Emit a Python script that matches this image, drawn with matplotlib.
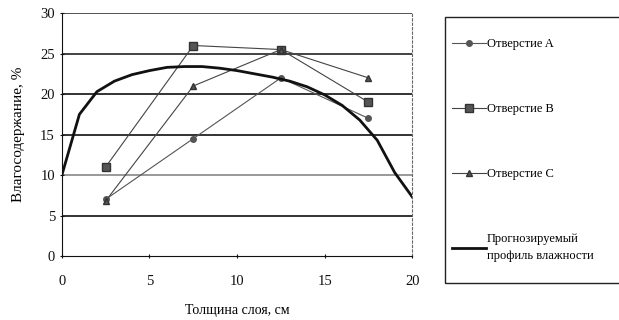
import matplotlib
matplotlib.use("Agg")
import matplotlib.pyplot as plt
from matplotlib.patches import Rectangle

plt.rcParams['font.family'] = ['Liberation Serif', 'DejaVu Serif']

x_holes = [2.5, 7.5, 12.5, 17.5]
hole_a = [7.0, 14.5, 22.0, 17.0]
hole_b = [11.0, 26.0, 25.5, 19.0]
hole_c = [6.8, 21.0, 25.5, 22.0]

x_profile = [0, 1, 2, 3, 4, 5, 6, 7, 8, 9, 10, 11, 12, 13, 14, 15, 16, 17, 18, 19, 20]
profile = [10.0, 17.5, 20.3, 21.6, 22.4, 22.9, 23.3, 23.4, 23.4, 23.2, 22.9,
           22.5, 22.1, 21.6, 20.9, 19.9, 18.6, 16.8, 14.3, 10.3, 7.3]

labels = ["Отверстие A", "Отверстие B", "Отверстие C",
          "Прогнозируемый\nпрофиль влажности"]

fig = plt.figure(figsize=(6.19, 3.2), dpi=100)
ax = fig.add_axes([0.100, 0.200, 0.566, 0.759])

ax.set_xlim(0, 20)
ax.set_ylim(0, 30)
ax.set_xticks([0, 5, 10, 15, 20])
ax.set_yticks([0, 5, 10, 15, 20, 25, 30])
for y, c in zip([5, 10, 15, 20, 25, 30], ['#111111', '#888888', '#111111', '#111111', '#222222', '#333333']):
    ax.axhline(y, color=c, lw=1.2, zorder=0)

la, = ax.plot(x_holes, hole_a, color='#555555', lw=0.8, marker='o', ms=4,
              mfc='#555555', mec='#555555', label=labels[0])
lb, = ax.plot(x_holes, hole_b, color='#444444', lw=0.8, marker='s', ms=6,
              mfc='#555555', mec='#333333', label=labels[1])
lc, = ax.plot(x_holes, hole_c, color='#444444', lw=0.8, marker='^', ms=5,
              mfc='#555555', mec='#333333', label=labels[2])
lp, = ax.plot(x_profile, profile, color='#111111', lw=2.0, label=labels[3])

ax.spines['top'].set_visible(False)
ax.spines['right'].set_linestyle((0, (2, 2)))
ax.spines['right'].set_color('#666666')
ax.spines['left'].set_color('#111111')
ax.spines['bottom'].set_color('#111111')
ax.tick_params(axis='both', labelsize=10.5, colors='#111111', length=3, direction='inout')
ax.tick_params(axis='x', pad=12)
ax.set_xlabel("Толщина слоя, см", fontsize=10, labelpad=12)
ax.set_ylabel("Влагосодержание, %", fontsize=11, labelpad=11)

# legend frame
W, H = 619.0, 320.0
fig.patches.append(Rectangle((445 / W, 1 - 283 / H), 180 / W, (283 - 17) / H,
                             transform=fig.transFigure, fill=False,
                             edgecolor='#222222', lw=1.0))

leg = fig.legend(handles=[la, lb, lc, lp], loc='upper left',
                 bbox_to_anchor=(447 / W, 1 - 33 / H),
                 fontsize=9, frameon=False, labelspacing=4.25,
                 handlelength=2.75, handletextpad=0.05, borderpad=0.4,
                 borderaxespad=0)
for t in leg.get_texts():
    t.set_linespacing(1.5)

fig.savefig("out.png", dpi=100)
